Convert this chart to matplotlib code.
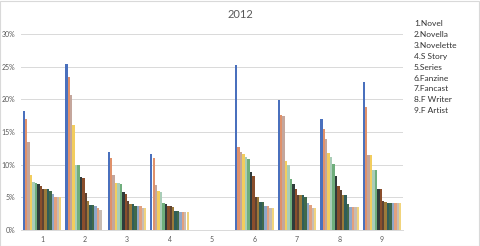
import matplotlib
matplotlib.use("Agg")
from matplotlib import pyplot as plt
import numpy as np

plt.rcParams["font.family"] = ["Lato", "DejaVu Sans"]

title = "2012"
categories = ["1", "2", "3", "4", "5", "6", "7", "8", "9"]
legend_labels = ["1.Novel", "2.Novella", "3.Novelette", "4.S Story", "5.Series",
                 "6.Fanzine", "7.Fancast", "8.F Writer", "9.F Artist"]
y_ticks = [0, 0.05, 0.10, 0.15, 0.20, 0.25, 0.30]

# one row per category, 16 series each (percent)
g1 = [18.2, 17.0, 13.4, 8.4, 7.3, 7.2, 7.0, 6.8, 6.3, 6.3, 6.2, 6.0, 5.5, 5.1, 5.1, 5.0]
g2 = [25.4, 23.4, 20.7, 16.0, 9.9, 9.9, 8.1, 7.9, 5.6, 4.5, 3.8, 3.8, 3.7, 3.4, 3.1, 0.0]
g3 = [11.9, 11.0, 8.4, 7.2, 7.2, 7.1, 5.8, 5.5, 4.4, 4.0, 4.0, 3.7, 3.7, 3.6, 3.4, 3.4]
g4 = [11.7, 11.0, 6.9, 5.9, 5.8, 4.1, 4.0, 3.7, 3.6, 3.5, 2.9, 2.9, 2.7, 2.7, 2.7, 2.7]
g5 = [0.0] * 16
g6 = [25.3, 12.7, 11.9, 11.6, 11.2, 10.9, 8.9, 8.2, 5.1, 5.1, 4.3, 4.3, 3.7, 3.7, 3.4, 3.4]
g7 = [19.9, 17.6, 17.5, 10.6, 10.0, 7.8, 7.1, 6.2, 5.4, 5.4, 5.4, 5.1, 4.1, 3.9, 3.4, 3.4]
g8 = [17.0, 15.5, 13.9, 11.8, 11.2, 10.1, 8.2, 6.8, 6.1, 5.4, 5.4, 4.0, 3.5, 3.5, 3.5, 3.5]
g9 = [22.6, 18.8, 11.5, 11.5, 9.2, 9.2, 6.3, 6.3, 4.5, 4.3, 4.1, 4.1, 4.1, 4.1, 4.1, 4.1]

colors = ["#4a70bd", "#e0916a", "#c4a69c", "#f2cd5e", "#a9cdb8", "#6fae7c",
          "#2f3b3b", "#8a4e2c", "#5e4333", "#9b7a3a", "#2f5e5a", "#40694a",
          "#8ea7c9", "#e2a07e", "#c8bcb2", "#f1d47c"]

data = np.array([g1, g2, g3, g4, g5, g6, g7, g8, g9]) / 100.0
n_cat, n_ser = data.shape

fig = plt.figure(figsize=(4.8, 2.46), dpi=100)
ax = fig.add_axes([20.75 / 480, 16 / 246, 382.5 / 480, 196 / 246])

x = np.arange(1, n_cat + 1)
w = 1 / 17.5
for j in range(n_ser):
    ax.bar(x - 8 * w + (j + 0.5) * w, data[:, j], width=w, color=colors[j], linewidth=0)

ax.set_xlim(0.5, n_cat + 0.5)
ax.set_ylim(0, 0.30)
ax.set_yticks(y_ticks)
ax.set_yticklabels(["%d%%" % round(t * 100) for t in y_ticks], fontsize=5, color="#595959")
ax.set_xticks(x)
ax.set_xticklabels(categories, fontsize=5, color="#595959")
ax.tick_params(length=0, pad=4)
ax.grid(axis="y", color="#d9d9d9", linewidth=0.7)
ax.set_axisbelow(True)
for s in ["top", "right", "left"]:
    ax.spines[s].set_visible(False)
ax.spines["bottom"].set_color("#d9d9d9")
ax.spines["bottom"].set_linewidth(0.7)

fig.text(240 / 480, 1 - 15 / 246, title, ha="center", va="center", fontsize=8, color="#595959")

for i, lab in enumerate(legend_labels):
    fig.text(414 / 480, 1 - (24 + i * 10.8) / 246, lab, ha="left", va="center",
             fontsize=6, color="#333333")

fig.patches.append(plt.Rectangle((0.001, 0.002), 0.997, 0.995, transform=fig.transFigure,
                                 fill=False, edgecolor="#d9d9d9", linewidth=0.8))

fig.savefig("out.png", dpi=100)
